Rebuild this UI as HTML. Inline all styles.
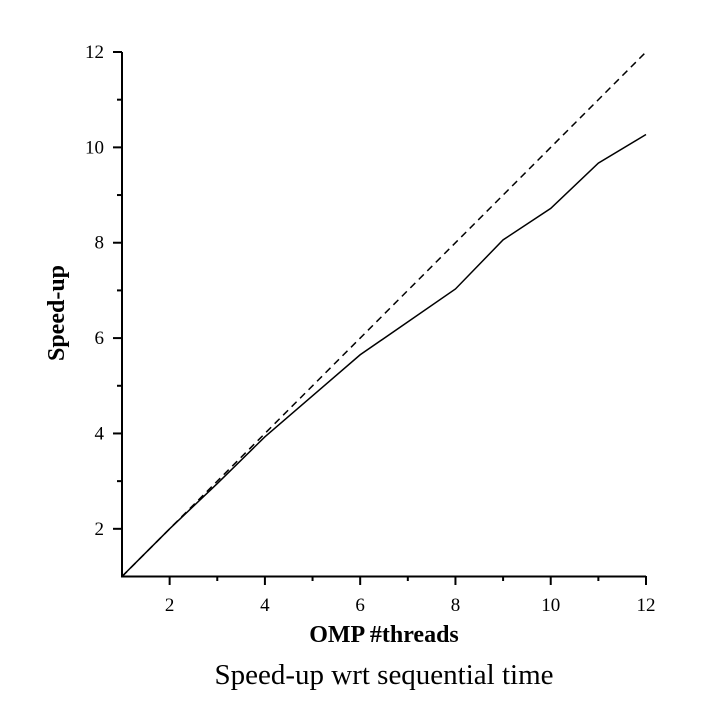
<!DOCTYPE html>
<html><head><meta charset="utf-8"><style>body{margin:0;background:#fff}svg{display:block}text{font-family:"Liberation Serif","Times New Roman",serif;fill:#000}</style></head>
<body>
<svg id="chart" width="721" height="711" xmlns="http://www.w3.org/2000/svg"></svg>
<script>
const threads = [1, 2, 3, 4, 6, 8, 9, 10, 11, 12];
const speedup = [1, 2.0, 2.95, 3.93, 5.65, 7.03, 8.06, 8.72, 9.67, 10.27];
const idealThreads = [1, 12];
const idealSpeedup = [1, 12];
const xTicks = [2, 4, 6, 8, 10, 12];
const yTicks = [2, 4, 6, 8, 10, 12];
const minorX = [3, 5, 7, 9, 11];
const minorY = [3, 5, 7, 9, 11];

const svg = document.getElementById('chart');
const NS = 'http://www.w3.org/2000/svg';
const X = v => 122 + (v - 1) * (524 / 11);
const Y = v => 576.5 - (v - 1) * (524.5 / 11);
function mk(tag, attrs, txt) {
  const e = document.createElementNS(NS, tag);
  for (const k in attrs) e.setAttribute(k, attrs[k]);
  if (tag === 'text') e.setAttribute('font-family', 'Liberation Serif, serif');
  if (txt !== undefined) e.textContent = txt;
  svg.appendChild(e);
  return e;
}
let e;
e = mk('line', {x1: 122, y1: Y(12), x2: 122, y2: 577.5, stroke: '#000', 'stroke-width': 2});


e = mk('line', {x1: 121, y1: 576.5, x2: X(12), y2: 576.5, stroke: '#000', 'stroke-width': 2});


xTicks.forEach(v => {
  e = mk('line', {x1: X(v), y1: 576, x2: X(v), y2: 585, stroke: '#000', 'stroke-width': 2});
  
  
  e = mk('text', {x: X(v), y: 611, 'text-anchor': 'middle', 'font-size': 19}, v);
  
  
});
minorX.forEach(v => {
  e = mk('line', {x1: X(v), y1: 576, x2: X(v), y2: 581, stroke: '#000', 'stroke-width': 2});
  
  
});
yTicks.forEach(v => {
  e = mk('line', {x1: 113, y1: Y(v), x2: 122, y2: Y(v), stroke: '#000', 'stroke-width': 2});
  
  
  e = mk('text', {x: 104, y: Y(v) + 6, 'text-anchor': 'end', 'font-size': 19}, v);
  
  
});
minorY.forEach(v => {
  e = mk('line', {x1: 117, y1: Y(v), x2: 122, y2: Y(v), stroke: '#000', 'stroke-width': 2});
  
  
});
e = mk('polyline', {points: idealThreads.map((t, i) => X(t) + ',' + Y(idealSpeedup[i])).join(' '), fill: 'none', stroke: '#000', 'stroke-width': 1.5, 'stroke-dasharray': '7,5'});


e = mk('polyline', {points: threads.map((t, i) => X(t) + ',' + Y(speedup[i])).join(' '), fill: 'none', stroke: '#000', 'stroke-width': 1.5});


e = mk('text', {x: 384, y: 642, 'text-anchor': 'middle', 'font-size': 24, 'font-weight': 'bold'}, 'OMP #threads');


e = mk('text', {x: 0, y: 0, 'text-anchor': 'middle', 'font-size': 24, 'font-weight': 'bold', transform: 'translate(64,313) rotate(-90)'}, 'Speed-up');


e = mk('text', {x: 384, y: 684, 'text-anchor': 'middle', 'font-size': 29}, 'Speed-up wrt sequential time');


</script>
</body></html>
